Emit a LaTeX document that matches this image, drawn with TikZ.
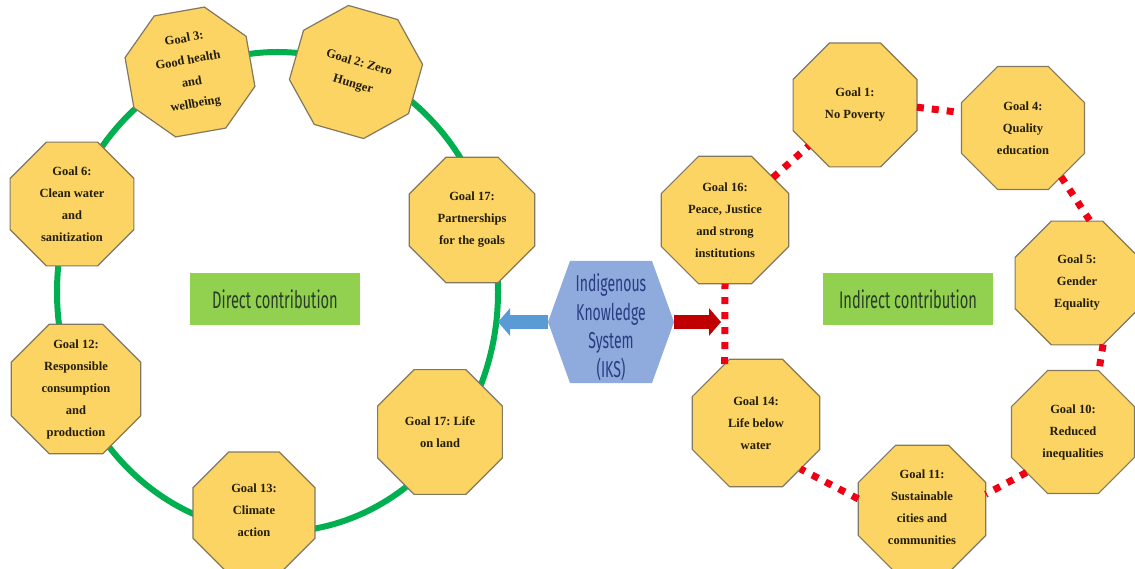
\documentclass[tikz,border=0pt]{standalone}
\usepackage{fontspec}
\setmainfont{Liberation Serif}
\newfontfamily\agency{Fira Sans}[FakeStretch=0.61]
\usetikzlibrary{shapes.geometric,arrows.meta}
\definecolor{octfill}{RGB}{252,212,100}
\definecolor{octdraw}{RGB}{130,120,95}
\definecolor{octtext}{RGB}{35,30,10}
\definecolor{ringgreen}{RGB}{0,176,80}
\definecolor{boxgreen}{RGB}{146,208,80}
\definecolor{boxtext}{RGB}{40,60,40}
\definecolor{iksfill}{RGB}{143,170,220}
\definecolor{ikstext}{RGB}{40,60,130}
\definecolor{bluearr}{RGB}{91,155,213}
\definecolor{redarr}{RGB}{192,0,0}
\definecolor{dotred}{RGB}{240,0,20}
\frenchspacing
\begin{document}
\begin{tikzpicture}[x=1pt,y=-1pt,
  octo/.style={regular polygon, regular polygon sides=8, minimum size=#1, inner sep=0pt, outer sep=0pt, fill=octfill, draw=octdraw, line width=1.2pt},
  octo/.default=134,
  goaltxt/.style={font=\bfseries\fontsize{12.5}{22}\selectfont, text=octtext, align=center, inner sep=0pt},
  dotline/.style={draw=dotred, line width=7pt, dash pattern=on 7pt off 8pt},
  greenbox/.style={fill=boxgreen, minimum width=170pt, minimum height=52pt, inner sep=0pt, font=\agency\fontsize{24}{28}\selectfont, text=boxtext},
  blockarrow/.style={line width=13pt, -{Triangle[length=12pt,width=27pt]}}
]
\useasboundingbox (0,0) rectangle (1135,569);
\fill[white] (0,0) rectangle (1135,569);

% green ring
\node[draw=ringgreen, line width=6pt, ellipse, minimum width=441pt, minimum height=480pt, inner sep=0pt, outer sep=0pt] (ring) at (277.5,292) {};

% left octagons
\node[octo=133, rotate=10] (g3) at (190,72) {};
\node[goaltxt, rotate=10] (t3) at (g3) {Goal 3:\\Good health\\and\\wellbeing};
\node[octo=134, rotate=-16] (g2) at (356,72) {};
\node[goaltxt, rotate=-16] (t2) at (356,74) {Goal 2: Zero\\Hunger};
\node[octo=134] (g6) at (72,204) {};
\node[goaltxt] (t6) at (g6) {Goal 6:\\Clean water\\and\\sanitization};
\node[octo=136] (g17p) at (472,220) {};
\node[goaltxt] (t17p) at (g17p) {Goal 17:\\Partnerships\\for the goals};
\node[octo=140] (g12) at (76,389) {};
\node[goaltxt] (t12) at (g12) {Goal 12:\\Responsible\\consumption\\and\\production};
\node[octo=132] (g13) at (254,513) {};
\node[goaltxt] (t13) at (254,510) {Goal 13:\\Climate\\action};
\node[octo=135] (g17l) at (440,432) {};
\node[goaltxt] (t17l) at (g17l) {Goal 17: Life\\on land};

% right octagons
\node[octo=134] (g1) at (855,105) {};
\node[goaltxt] (t1) at (g1) {Goal 1:\\No Poverty};
\node[octo=133] (g4) at (1023,128) {};
\node[goaltxt] (t4) at (g4) {Goal 4:\\Quality\\education};
\node[octo=138] (g16) at (725,220) {};
\node[goaltxt] (t16) at (g16) {Goal 16:\\Peace, Justice\\and strong\\institutions};
\node[octo=134] (g5) at (1077,283) {};
\node[goaltxt] (t5) at (g5) {Goal 5:\\Gender\\Equality};
\node[octo=138] (g14) at (756,423) {};
\node[goaltxt] (t14) at (g14) {Goal 14:\\Life below\\water};
\node[octo=133] (g10) at (1073,432) {};
\node[goaltxt] (t10) at (g10) {Goal 10:\\Reduced\\inequalities};
\node[octo=138] (g11) at (922,509) {};
\node[goaltxt] (t11) at (922,507) {Goal 11:\\Sustainable\\cities and\\communities};

% red dotted links
\draw[dotline] (g16) -- (g1);
\draw[dotline] (g1.-2) -- (g4.166);
\draw[dotline] (g4.-52) -- (g5.78);
\draw[dotline] (g5.-67) -- (g10.67);
\draw[dotline] (g10.221) -- (g11.13);
\draw[dotline] (g11.171) -- (g14.-46);
\draw[dotline] (g14.118) -- (g16.-90);

% labels
\node[greenbox] (direct) at (275,299) {Direct contribution};
\node[greenbox] (indirect) at (908,299) {Indirect contribution};

% IKS hexagon
\fill[iksfill] (548,322) -- (570,261) -- (652,261) -- (674,322) -- (652,383) -- (570,383) -- cycle;
\node[font=\agency\fontsize{23}{28.5}\selectfont, text=ikstext, align=center, inner sep=0pt] (iks) at (611,327) {Indigenous\\Knowledge\\System\\(IKS)};
\coordinate (iksW) at (548,322);
\coordinate (iksE) at (674,322);
\coordinate (redtip) at (721,322);

% arrows
\draw[blockarrow, bluearr] (iksW) -- (iksW -| ring.east);
\draw[blockarrow, redarr] (iksE) -- (redtip);
\end{tikzpicture}
\end{document}
